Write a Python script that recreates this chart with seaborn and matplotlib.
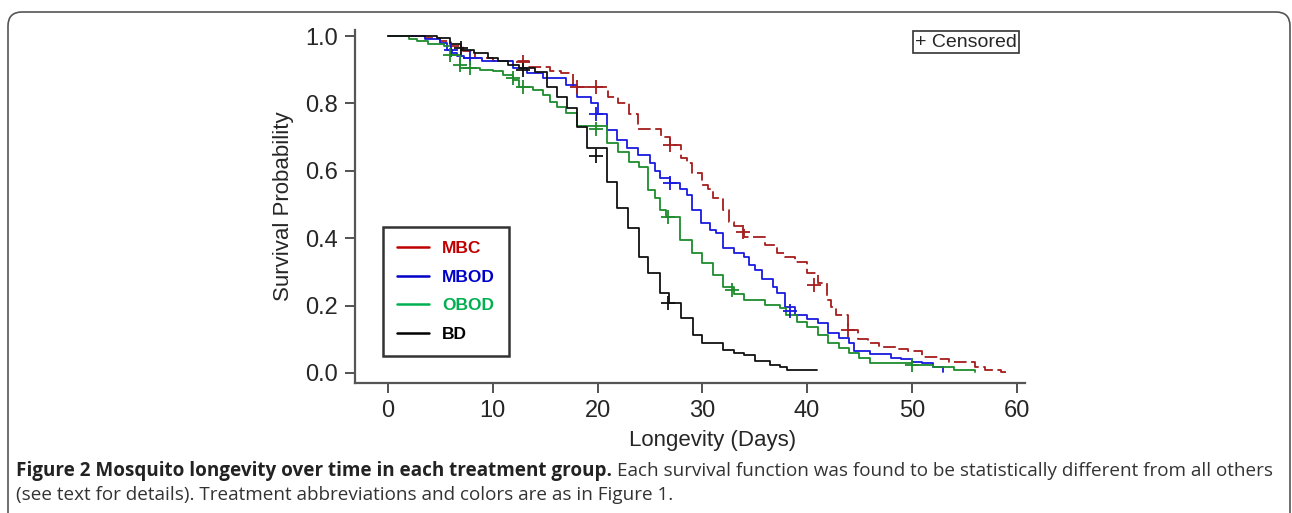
import numpy as np
import pandas as pd
import seaborn as sns
import matplotlib.pyplot as plt
from matplotlib.lines import Line2D
from matplotlib.patches import FancyBboxPatch

# Kaplan-Meier step curves (time in days, survival after step)
mbc_t = [0, 3.5, 5.0, 6.0, 7.2, 8.3, 10.0, 13.5, 15.5, 16.5, 17.7, 21.0, 22.0, 23.0, 23.9,
         26.1, 26.9, 28.0, 28.5, 29.0, 30.0, 30.5, 31.0, 32.0, 32.5, 33.0, 34.0, 36.0, 37.1,
         37.9, 38.8, 40.0, 41.0, 41.9, 42.3, 42.8, 43.9, 44.9, 45.8, 46.9, 48.5, 49.6, 51.0,
         52.5, 53.5, 56.0, 57.0, 58.5, 59.0]
mbc_s = [1.0, 0.994, 0.985, 0.97, 0.955, 0.935, 0.926, 0.908, 0.895, 0.89, 0.85, 0.82, 0.80,
         0.77, 0.724, 0.70, 0.677, 0.638, 0.623, 0.593, 0.558, 0.546, 0.52, 0.484, 0.448, 0.436,
         0.404, 0.38, 0.356, 0.344, 0.33, 0.297, 0.267, 0.217, 0.196, 0.172, 0.128, 0.10, 0.089,
         0.077, 0.071, 0.065, 0.047, 0.04, 0.033, 0.018, 0.009, 0.003, 0.003]

mbod_t = [0, 3.5, 5.0, 5.6, 6.1, 6.6, 7.3, 9.0, 11.9, 13.3, 14.8, 17.0, 18.0, 19.4, 20.0, 20.9,
          21.9, 22.8, 23.9, 25.0, 25.5, 26.0, 26.9, 27.9, 28.5, 29.0, 29.9, 30.7, 31.3, 32.0,
          33.0, 34.0, 34.5, 35.0, 35.7, 36.7, 37.1, 37.9, 38.8, 40.0, 41.0, 42.0, 43.0, 44.0,
          44.5, 46.0, 48.0, 49.0, 50.0, 51.0, 52.0, 53.0]
mbod_s = [1.0, 0.99, 0.98, 0.96, 0.95, 0.94, 0.935, 0.926, 0.905, 0.89, 0.875, 0.855, 0.82,
          0.80, 0.768, 0.72, 0.69, 0.667, 0.648, 0.623, 0.60, 0.578, 0.564, 0.545, 0.528, 0.484,
          0.445, 0.425, 0.415, 0.37, 0.356, 0.344, 0.32, 0.306, 0.28, 0.255, 0.237, 0.196, 0.172,
          0.16, 0.148, 0.119, 0.104, 0.089, 0.065, 0.056, 0.045, 0.04, 0.033, 0.03, 0.018, 0.003]

obod_t = [0, 2.0, 2.8, 3.8, 5.3, 6.0, 6.9, 8.8, 10.0, 11.0, 11.9, 12.5, 13.8, 14.8, 15.5, 16.1,
          17.0, 18.0, 20.9, 22.0, 23.0, 24.0, 24.8, 25.5, 26.0, 26.5, 27.9, 29.0, 30.0, 31.0,
          32.0, 33.0, 34.0, 36.0, 37.4, 38.0, 39.0, 40.0, 41.0, 42.0, 43.0, 44.0, 45.0, 46.0,
          50.0, 52.0, 54.0, 56.0]
obod_s = [1.0, 0.99, 0.985, 0.975, 0.97, 0.944, 0.906, 0.9, 0.895, 0.884, 0.87, 0.85, 0.84,
          0.825, 0.804, 0.79, 0.772, 0.733, 0.682, 0.655, 0.626, 0.611, 0.543, 0.52, 0.484,
          0.463, 0.395, 0.356, 0.326, 0.29, 0.255, 0.235, 0.217, 0.202, 0.193, 0.172, 0.151,
          0.136, 0.113, 0.089, 0.074, 0.059, 0.044, 0.03, 0.024, 0.018, 0.009, 0.003]

bd_t = [0, 4.7, 5.9, 7.0, 8.2, 9.5, 10.5, 11.5, 12.5, 14.0, 15.2, 16.1, 17.1, 18.0, 19.0, 20.9,
        21.9, 22.9, 24.0, 24.8, 26.0, 26.8, 28.0, 29.1, 30.0, 32.0, 33.0, 34.0, 35.0, 36.5,
        37.4, 38.1, 40.9]
bd_s = [1.0, 0.994, 0.975, 0.96, 0.95, 0.935, 0.925, 0.915, 0.905, 0.893, 0.85, 0.82, 0.786,
        0.73, 0.667, 0.567, 0.49, 0.43, 0.344, 0.297, 0.237, 0.208, 0.163, 0.113, 0.089, 0.068,
        0.06, 0.053, 0.035, 0.024, 0.018, 0.009, 0.009]

# censored observations
mbc_cx = [12.9, 18.0, 19.9, 26.9, 33.9, 40.7, 43.9]
mbc_cy = [0.923, 0.85, 0.85, 0.677, 0.418, 0.262, 0.128]
mbod_cx = [6.0, 7.8, 19.9, 26.9, 38.4]
mbod_cy = [0.958, 0.935, 0.768, 0.564, 0.185]
obod_cx = [5.9, 6.9, 7.8, 11.9, 12.9, 19.9, 26.7, 32.8, 50.0]
obod_cy = [0.944, 0.914, 0.906, 0.875, 0.85, 0.725, 0.463, 0.246, 0.024]
bd_cx = [7.0, 12.9, 19.9, 26.7]
bd_cy = [0.965, 0.9, 0.645, 0.208]

groups = ["MBC", "MBOD", "OBOD", "BD"]
curve_colors = {"MBC": "#a51e1e", "MBOD": "#1a1ae0", "OBOD": "#1e8c2d", "BD": "#111111"}
legend_colors = {"MBC": "#c00000", "MBOD": "#0000c8", "OBOD": "#00b050", "BD": "#000000"}

curves = {"MBC": (mbc_t, mbc_s), "MBOD": (mbod_t, mbod_s),
          "OBOD": (obod_t, obod_s), "BD": (bd_t, bd_s)}
censors = {"MBC": (mbc_cx, mbc_cy), "MBOD": (mbod_cx, mbod_cy),
           "OBOD": (obod_cx, obod_cy), "BD": (bd_cx, bd_cy)}

sns.set_theme(style="white")
plt.rcParams["font.family"] = ["Liberation Sans", "DejaVu Sans"]

W, H = 1292, 513
fig = plt.figure(figsize=(W / 100, H / 100), dpi=100)
ax = fig.add_axes([355 / W, 1 - 383 / H, 670 / W, 353 / H])

for g in groups:
    t, s = curves[g]
    df = pd.DataFrame({"Days": t, "Survival": s})
    kw = dict(linestyle=(0, (7, 2.5))) if g == "MBC" else {}
    sns.lineplot(data=df, x="Days", y="Survival", drawstyle="steps-post",
                 estimator=None, sort=False, color=curve_colors[g], linewidth=1.3,
                 legend=False, ax=ax, **kw)
    cx, cy = censors[g]
    sns.scatterplot(x=cx, y=cy, marker="+", s=110, linewidth=1.3,
                    color=curve_colors[g], legend=False, ax=ax, zorder=3)

ax.set_xlim(-3.15, 60.8)
ax.set_ylim(-0.03, 1.018)
ax.set_xticks(range(0, 61, 10))
ax.set_yticks(np.arange(0, 1.01, 0.2))
ax.set_yticklabels([f"{v:.1f}" for v in np.arange(0, 1.01, 0.2)])
ax.tick_params(axis="both", direction="out", length=7, width=1.3, color="#444444",
               labelsize=17, pad=5, left=True, bottom=True)
for side in ["top", "right"]:
    ax.spines[side].set_visible(False)
for side in ["left", "bottom"]:
    ax.spines[side].set_color("#555555")
    ax.spines[side].set_linewidth(1.6)
ax.set_xlabel("Longevity (Days)", fontsize=16, labelpad=5)
ax.xaxis.set_label_coords(0.534, -0.132)
ax.set_ylabel("Survival Probability", fontsize=16, labelpad=8)
ax.grid(False)

handles = [Line2D([0], [0], color=legend_colors[g], lw=1.8) for g in groups]
leg = ax.legend(handles, groups, loc="lower left", bbox_to_anchor=(0.042, 0.0765),
                borderaxespad=0, frameon=True, fancybox=False, handlelength=1.85,
                handletextpad=0.75, labelspacing=0.78, borderpad=0.8,
                prop={"weight": "bold", "size": 12.5})
leg.get_frame().set_edgecolor("black")
leg.get_frame().set_linewidth(1.8)
for txt, g in zip(leg.get_texts(), groups):
    txt.set_color(legend_colors[g])

ax.text(0.912, 0.966, "+ Censored", transform=ax.transAxes, ha="center", va="center",
        fontsize=14, bbox=dict(boxstyle="square,pad=0.12", fc="white", ec="#333333", lw=1.2))

# caption
cap_font = ["Open Sans", "DejaVu Sans"]
cap_size = 13.55
bold = fig.text(16 / W, 1 - 471 / H, "Figure 2 Mosquito longevity over time in each treatment group.",
                fontsize=cap_size, fontweight="bold", family=cap_font, va="center", color="#222222")
fig.canvas.draw()
bb = bold.get_window_extent()
fig.text((bb.x1 + 5) / W, 1 - 471 / H,
         "Each survival function was found to be statistically different from all others",
         fontsize=cap_size, family=cap_font, va="center", color="#333333")
fig.text(16 / W, 1 - 495 / H,
         "(see text for details). Treatment abbreviations and colors are as in Figure 1.",
         fontsize=cap_size, family=cap_font, va="center", color="#333333")

frame = FancyBboxPatch((8, -30), W - 10, H - 12 + 30, boxstyle="round,pad=0,rounding_size=14",
                       transform=None, fc="none", ec="#555555", lw=1.2)
fig.add_artist(frame)

fig.savefig("out.png", dpi=100)
